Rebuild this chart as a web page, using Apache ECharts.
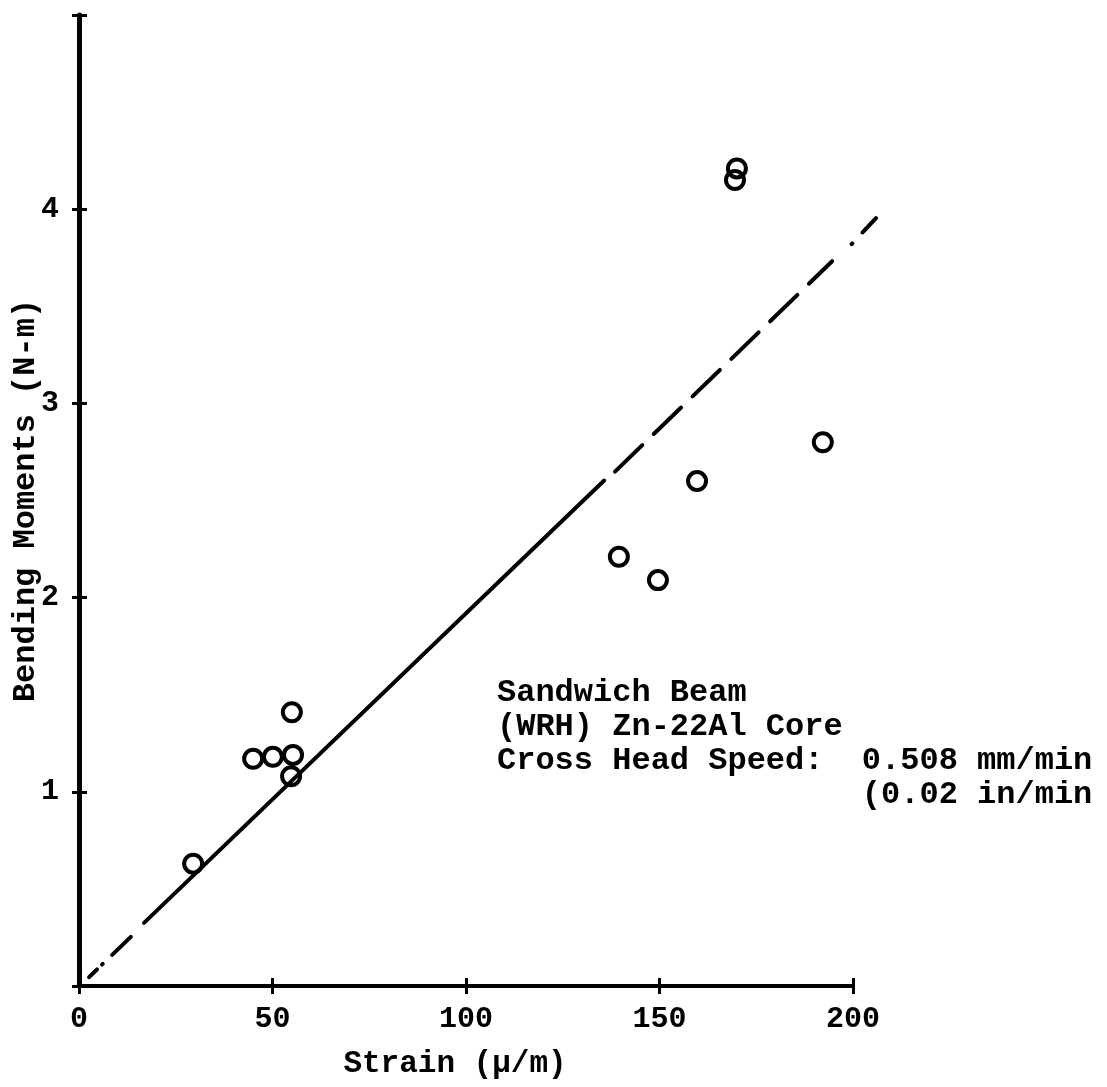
<!DOCTYPE html>
<html>
<head>
<meta charset="utf-8">
<script src="https://cdn.jsdelivr.net/npm/echarts@6/dist/echarts.min.js"></script>
<style>
  html, body { margin: 0; padding: 0; background: #fff; }
  #chart { width: 1107px; height: 1087px; }
</style>
</head>
<body>
<div id="chart"></div>
<script>
// Measured bending moment vs. strain, sandwich beam
const strainValues = [29.5, 45.0, 50.1, 55.0, 55.3, 54.8, 139.5, 149.6, 159.7, 170.0, 169.5, 192.2];
const momentValues = [0.63, 1.17, 1.18, 1.41, 1.19, 1.08, 2.21, 2.09, 2.60, 4.21, 4.15, 2.80];

// Fitted trend line, drawn in pieces with different dash styles
const trendLeadIn  = [[2.6, 0.046], [13.4, 0.253]];
const trendSolid   = [[16.8, 0.325], [135.7, 2.603]];
const trendDashed  = [[138.5, 2.649], [194.6, 3.732]];
const trendLeadOut = [[199.7, 3.820], [206.0, 3.954]];

const xTicks = [0, 50, 100, 150, 200];
const yTickLabels = ['', '1', '2', '3', '4', ''];

const noteLines = [
  'Sandwich Beam',
  '(WRH) Zn-22Al Core',
  'Cross Head Speed:  0.508 mm/min',
  '                   (0.02 in/min'
];

const FONT = '"Liberation Mono", "DejaVu Sans Mono", monospace';
const points = strainValues.map((x, i) => [x, momentValues[i]]);

const lineSeries = (data, type, axisIndex) => ({
  type: 'line',
  data: data,
  xAxisIndex: axisIndex,
  yAxisIndex: axisIndex,
  symbol: 'none',
  silent: true,
  clip: false,
  lineStyle: { color: '#000', width: 4, type: type, cap: 'round' },
  z: 2
});

const chart = echarts.init(document.getElementById('chart'), null, { renderer: 'canvas' });
chart.setOption({
  animation: false,
  backgroundColor: '#fff',
  grid: [
    // main plot area: 0..200 on x
    { left: 79, right: 254, top: 15, bottom: 101, outerBoundsMode: 'none' },
    // same scale, widened to 0..206 so the trend line can run past the axis end
    { left: 79, right: 231, top: 15, bottom: 101, outerBoundsMode: 'none' }
  ],
  xAxis: [{
    type: 'value',
    min: xTicks[0], max: xTicks[xTicks.length - 1], interval: 50,
    name: 'Strain (\u03bc/m)',
    nameLocation: 'middle',
    nameGap: 63,
    nameMoveOverlap: false,
    nameTextStyle: { fontFamily: FONT, fontSize: 31, fontWeight: 'bold', color: '#000', padding: [0, 22, 0, 0] },
    axisLine: { show: true, lineStyle: { color: '#000', width: 4 } },
    axisTick: { show: true, length: 8, lineStyle: { color: '#000', width: 3 } },
    axisLabel: { fontFamily: FONT, fontSize: 30, fontWeight: 'bold', color: '#000', margin: 18 },
    splitLine: { show: false }
  }, {
    type: 'value', position: 'bottom',
    min: xTicks[0], max: xTicks[xTicks.length - 1], interval: 50,
    axisLine: { show: false },
    axisTick: { show: true, inside: true, length: 8, lineStyle: { color: '#000', width: 3 } },
    axisLabel: { show: false },
    splitLine: { show: false }
  }, {
    type: 'value', gridIndex: 1, show: false, min: 0, max: 206
  }],
  yAxis: [{
    type: 'value',
    min: 0, max: 5, interval: 1,
    name: 'Bending Moments (N-m)',
    nameLocation: 'middle',
    nameGap: 37,
    nameMoveOverlap: false,
    nameTextStyle: { fontFamily: FONT, fontSize: 32, fontWeight: 'bold', color: '#000' },
    axisLine: { show: true, lineStyle: { color: '#000', width: 5 } },
    axisTick: { show: true, length: 7, lineStyle: { color: '#000', width: 3 } },
    axisLabel: {
      fontFamily: FONT, fontSize: 30, fontWeight: 'bold', color: '#000', margin: 20,
      formatter: (v) => yTickLabels[Math.round(v)]
    },
    splitLine: { show: false }
  }, {
    type: 'value', position: 'left',
    min: 0, max: 5, interval: 1,
    axisLine: { show: false },
    axisTick: { show: true, inside: true, length: 8, lineStyle: { color: '#000', width: 3 } },
    axisLabel: { show: false },
    splitLine: { show: false }
  }, {
    type: 'value', gridIndex: 1, show: false, min: 0, max: 5
  }],
  series: [
    lineSeries(trendLeadIn, [11, 7, 1, 13, 26], 0),
    lineSeries(trendSolid, 'solid', 0),
    lineSeries(trendDashed, [38, 16], 0),
    lineSeries(trendLeadOut, [1, 15, 22], 2),
    {
      type: 'scatter',
      data: points,
      symbol: 'circle',
      symbolSize: 18,
      itemStyle: { color: 'rgba(0,0,0,0)', borderColor: '#000', borderWidth: 4, opacity: 1 },
      z: 3
    }
  ],
  graphic: [{
    type: 'text',
    left: 497,
    top: 676,
    style: {
      text: noteLines.join('\n'),
      font: 'bold 32px ' + FONT,
      lineHeight: 34,
      fill: '#000'
    }
  }]
});
</script>
</body>
</html>
